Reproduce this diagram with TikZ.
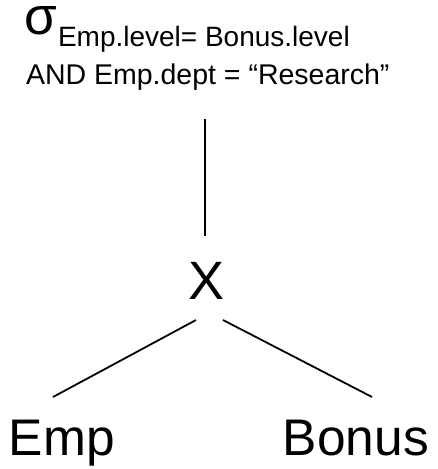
\documentclass[tikz,border=0pt]{standalone}
\usepackage{fontspec}
\setmainfont{Liberation Sans}
\begin{document}
\begin{tikzpicture}[x=1pt,y=-1pt,
  lbl/.style={inner sep=0pt, outer sep=0pt},
  edge/.style={line width=1.8pt, black}]
\useasboundingbox (0,0) rectangle (438,469);
\node[lbl, anchor=base west, text height=28pt, text depth=0pt, font=\fontsize{53}{53}\selectfont] (sig) at (24,34) {σ};
\node[lbl, anchor=base west, font=\fontsize{28}{28}\selectfont] (sub) at (58,46) {Emp.level= Bonus.level};
\node[lbl, anchor=base west, font=\fontsize{28.5}{28.5}\selectfont] (cond) at (26,84) {AND Emp.dept = “Research”};
\node[lbl, anchor=base, font=\fontsize{54}{54}\selectfont] (cross) at (207,299) {X};
\node[lbl, anchor=base west, font=\fontsize{51.5}{51.5}\selectfont] (emp) at (9,455) {Emp};
\node[lbl, anchor=base east, font=\fontsize{51.5}{51.5}\selectfont] (bonus) at (429,455) {Bonus};
\coordinate (selbot) at (205,119);
\coordinate (xtop) at (205,236);
\coordinate (xl) at (196,320);
\coordinate (xr) at (223,320);
\coordinate (empt) at (53,397);
\coordinate (bont) at (372,397);
\draw[edge] (selbot) -- (xtop);
\draw[edge] (xl) -- (empt);
\draw[edge] (xr) -- (bont);
\end{tikzpicture}
\end{document}
